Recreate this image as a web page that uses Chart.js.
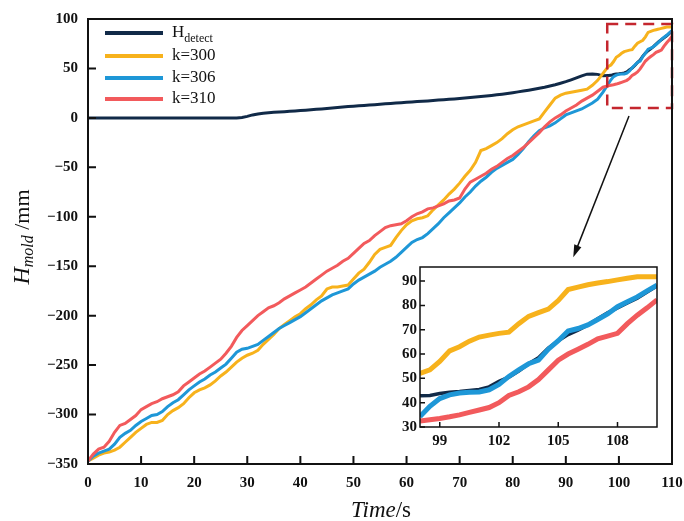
<!DOCTYPE html>
<html>
<head>
<meta charset="utf-8">
<script src="https://cdn.jsdelivr.net/npm/chart.js@4.4.1/dist/chart.umd.min.js"></script>
<style>
  html, body { margin: 0; padding: 0; background: #fff; }
  #wrap { position: relative; width: 684px; height: 521px; }
  #main { position: absolute; left: 0; top: 0; }
  #inset { position: absolute; left: 390px; top: 255px; }
</style>
</head>
<body>
<div id="wrap">
  <canvas id="main" width="684" height="521" style="width:684px;height:521px"></canvas>
  <canvas id="inset" width="272" height="200" style="width:272px;height:200px"></canvas>
</div>
<script>
// ----------------------------------------
// Data
// ----------------------------------------
const timeMain = Array.from({ length: 98 }, (_, i) => i);          // 0 .. 97 s
const timeZoom = Array.from({ length: 25 }, (_, i) => 98 + i * 0.5); // 98 .. 110 s

const hDetectMain = [
  0, 0, 0, 0, 0, 0, 0, 0, 0, 0,
  0, 0, 0, 0, 0, 0, 0, 0, 0, 0,
  0, 0, 0, 0, 0, 0, 0, 0, 0, 0.5,
  1.5, 3, 4, 4.8, 5.2, 5.6, 6, 6.3, 6.7, 7,
  7.4, 7.8, 8.2, 8.7, 9.1, 9.6, 10, 10.5, 11, 11.4,
  11.8, 12.2, 12.6, 13, 13.4, 13.8, 14.2, 14.6, 15, 15.4,
  15.8, 16.1, 16.5, 16.8, 17.2, 17.6, 18, 18.4, 18.8, 19.2,
  19.7, 20.1, 20.6, 21.1, 21.6, 22.1, 22.7, 23.3, 24, 24.7,
  25.5, 26.3, 27.1, 28, 29, 30, 31, 32.2, 33.5, 35,
  36.6, 38.5, 40.5, 42.5, 44.2, 44.5, 44, 42.5
];
const k300Main = [
  -347, -344, -341, -339, -338, -336, -333, -328, -323, -318,
  -314, -310, -308, -308, -306, -300, -296, -293, -289, -283,
  -278, -275, -273, -270, -266, -261, -257, -252, -247, -243,
  -240, -238, -235, -229, -224, -219, -213, -209, -205, -201,
  -198, -193, -189, -184, -180, -173, -171, -171, -170, -169,
  -163, -157, -153, -146, -138, -133, -131, -129, -121, -114,
  -108, -104, -102, -101, -99, -93, -88, -83, -77, -72,
  -66, -59, -53, -45, -33, -31, -28, -25, -21, -16,
  -12, -9, -7, -5, -3, -1, 6, 13, 20, 23,
  25, 26, 27, 28, 29, 33, 38, 45
];
const k306Main = [
  -347, -342, -339, -337, -335, -330, -323, -319, -316, -311,
  -307, -304, -301, -300, -297, -292, -288, -285, -280, -275,
  -271, -267, -264, -260, -257, -253, -249, -243, -237, -234,
  -233, -231, -229, -225, -221, -217, -213, -210, -207, -204,
  -201, -197, -193, -189, -185, -182, -179, -177, -175, -173,
  -168, -164, -161, -158, -155, -151, -148, -145, -141, -136,
  -131, -126, -123, -121, -117, -112, -107, -101, -96, -91,
  -86, -80, -75, -69, -64, -60, -55, -51, -48, -45,
  -42, -37, -31, -24, -18, -13, -10, -8, -5, -1,
  3, 5, 7, 9, 12, 15, 19, 26
];
const k310Main = [
  -347, -340, -335, -333, -327, -318, -311, -309, -305, -301,
  -295, -292, -289, -287, -284, -282, -280, -277, -271, -267,
  -263, -259, -256, -252, -248, -244, -238, -231, -222, -215,
  -210, -205, -200, -196, -192, -190, -187, -183, -180, -177,
  -174, -171, -167, -163, -159, -155, -152, -149, -145, -142,
  -137, -132, -127, -124, -119, -115, -111, -109, -108, -107,
  -104, -100, -97, -95, -92, -91, -89, -87, -84, -83,
  -81, -72, -65, -62, -59, -56, -52, -49, -45, -41,
  -38, -34, -30, -25, -20, -15, -9, -4, 0, 3,
  7, 10, 13, 17, 20, 23, 27, 31
];

// end section, 98..110 s every 0.5 s (also used by the inset)
const hDetectZoom = [42.8, 43, 43.8, 44.3, 44.6, 45, 45.4, 46.5, 48.8, 50.5, 53, 56, 58.5,
  62.5, 65.5, 68, 69.8, 72, 74.5, 77, 79, 81, 83, 85.5, 88];
const k300Zoom = [52, 53.5, 57, 61.3, 63, 65.3, 67, 67.8, 68.5, 69, 72.5, 75.5, 77,
  78.5, 82, 86.5, 87.5, 88.5, 89.2, 89.8, 90.5, 91.2, 91.8, 91.8, 91.8];
const k306Zoom = [34.3, 38.5, 41.7, 43.2, 44, 44.3, 44.4, 45.3, 47.5, 50.8, 53.5, 56, 57.5,
  62, 65.5, 69.5, 70.5, 72, 74.2, 76.5, 79.5, 81.5, 83.5, 86, 88.3];
const k310Zoom = [32.5, 33, 33.5, 34.2, 35, 36, 37, 38, 40, 43, 44.5, 46.5, 49.5,
  53.5, 57.5, 60, 62, 64, 66.3, 67.4, 68.5, 72.5, 76, 79, 82.3];

const mainXTicks = [0, 10, 20, 30, 40, 50, 60, 70, 80, 90, 100, 110];
const mainYTicks = [-350, -300, -250, -200, -150, -100, -50, 0, 50, 100];
const insetXTicks = [99, 102, 105, 108];
const insetYTicks = [30, 40, 50, 60, 70, 80, 90];

// zoom box on the main chart (data units) and arrow end points
const zoomBox = { x0: 97.8, x1: 110, y0: 10, y1: 95 };
const arrowFrom = { x: 101.9, y: 2 };
const arrowTo = { x: 91.4, y: -141 };

// ----------------------------------------
// Styling
// ----------------------------------------
const SERIF = "'Liberation Serif', 'Times New Roman', serif";
const COLORS = { detect: '#112a48', k300: '#f7b21c', k306: '#1e97d7', k310: '#f25a5c' };

const pts = (xs, ys) => xs.map((x, i) => ({ x: x, y: ys[i] }));
const fmtNum = (v) => (v < 0 ? '\u2212' + Math.abs(v) : String(v));

function series(label, color, xs, ys, width, order) {
  return {
    label: label,
    data: pts(xs, ys),
    borderColor: color,
    backgroundColor: color,
    borderWidth: width,
    pointRadius: 0,
    tension: 0,
    fill: false,
    order: order,
  };
}

// border box + inward tick marks
function frameTicks(lineW, tickLen) {
  return {
    id: 'frameTicks',
    afterDraw(chart) {
      const { ctx, chartArea: a, scales: { x, y } } = chart;
      ctx.save();
      ctx.strokeStyle = '#111';
      ctx.lineWidth = lineW;
      ctx.strokeRect(a.left, a.top, a.right - a.left, a.bottom - a.top);
      ctx.beginPath();
      x.ticks.forEach(t => {
        const px = x.getPixelForValue(t.value);
        ctx.moveTo(px, a.bottom);
        ctx.lineTo(px, a.bottom - tickLen);
      });
      y.ticks.forEach(t => {
        const py = y.getPixelForValue(t.value);
        ctx.moveTo(a.left, py);
        ctx.lineTo(a.left + tickLen, py);
      });
      ctx.stroke();
      ctx.restore();
    }
  };
}

// ----------------------------------------
// Main chart extras: legend, titles, zoom box, arrow
// ----------------------------------------
const mainExtras = {
  id: 'mainExtras',
  afterDatasetsDraw(chart) {
    const { ctx, scales: { x, y } } = chart;
    ctx.save();
    // dashed zoom box
    const bx0 = x.getPixelForValue(zoomBox.x0), bx1 = x.getPixelForValue(zoomBox.x1);
    const by0 = y.getPixelForValue(zoomBox.y1), by1 = y.getPixelForValue(zoomBox.y0);
    ctx.strokeStyle = '#c4262e';
    ctx.lineWidth = 2.5;
    ctx.setLineDash([11, 7]);
    ctx.strokeRect(bx0, by0, bx1 - bx0, by1 - by0);
    ctx.setLineDash([]);

    // arrow
    const ax0 = x.getPixelForValue(arrowFrom.x), ay0 = y.getPixelForValue(arrowFrom.y);
    const ax1 = x.getPixelForValue(arrowTo.x), ay1 = y.getPixelForValue(arrowTo.y);
    const ang = Math.atan2(ay1 - ay0, ax1 - ax0);
    ctx.strokeStyle = '#111';
    ctx.fillStyle = '#111';
    ctx.lineWidth = 1.5;
    ctx.beginPath();
    ctx.moveTo(ax0, ay0);
    ctx.lineTo(ax1 - 8 * Math.cos(ang), ay1 - 8 * Math.sin(ang));
    ctx.stroke();
    ctx.beginPath();
    ctx.moveTo(ax1, ay1);
    ctx.lineTo(ax1 - 13 * Math.cos(ang - 0.3), ay1 - 13 * Math.sin(ang - 0.3));
    ctx.lineTo(ax1 - 13 * Math.cos(ang + 0.3), ay1 - 13 * Math.sin(ang + 0.3));
    ctx.closePath();
    ctx.fill();
    ctx.restore();
  },
  afterDraw(chart) {
    const ctx = chart.ctx;
    ctx.save();
    ctx.textBaseline = 'middle';
    ctx.fillStyle = '#111';

    // legend
    const rows = [
      { color: COLORS.detect, y: 33, main: 'H', sub: 'detect' },
      { color: COLORS.k300, y: 56, main: 'k=300' },
      { color: COLORS.k306, y: 78, main: 'k=306' },
      { color: COLORS.k310, y: 99, main: 'k=310' },
    ];
    rows.forEach(r => {
      ctx.strokeStyle = r.color;
      ctx.lineWidth = 4;
      ctx.beginPath();
      ctx.moveTo(105, r.y);
      ctx.lineTo(163, r.y);
      ctx.stroke();
      ctx.font = '17px ' + SERIF;
      ctx.fillStyle = '#111';
      ctx.textAlign = 'left';
      ctx.fillText(r.main, 172, r.y);
      if (r.sub) {
        const w = ctx.measureText(r.main).width;
        ctx.font = '12px ' + SERIF;
        ctx.fillText(r.sub, 172 + w, r.y + 6);
      }
    });

    // x title: Time/s
    ctx.font = 'italic 23px ' + SERIF;
    const w1 = ctx.measureText('Time').width;
    ctx.font = '23px ' + SERIF;
    const w2 = ctx.measureText('/s').width;
    let sx = 381 - (w1 + w2) / 2;
    ctx.textAlign = 'left';
    ctx.font = 'italic 23px ' + SERIF;
    ctx.fillText('Time', sx, 511);
    ctx.font = '23px ' + SERIF;
    ctx.fillText('/s', sx + w1, 511);

    // y title: H_mold /mm
    ctx.translate(23, 237);
    ctx.rotate(-Math.PI / 2);
    ctx.font = 'italic 24px ' + SERIF;
    const h1 = ctx.measureText('H').width;
    ctx.font = 'italic 16px ' + SERIF;
    const h2 = ctx.measureText('mold').width;
    ctx.font = '22px ' + SERIF;
    const h3 = ctx.measureText(' /mm').width;
    let tx = -(h1 + h2 + h3) / 2;
    ctx.font = 'italic 24px ' + SERIF;
    ctx.fillText('H', tx, 0);
    ctx.font = 'italic 16px ' + SERIF;
    ctx.fillText('mold', tx + h1, 6);
    ctx.font = '22px ' + SERIF;
    ctx.fillText(' /mm', tx + h1 + h2, 0);
    ctx.restore();
  }
};

new Chart(document.getElementById('main'), {
  type: 'line',
  data: {
    datasets: [
      series('H_detect', COLORS.detect, timeMain.concat(timeZoom), hDetectMain.concat(hDetectZoom), 3, 4),
      series('k=300', COLORS.k300, timeMain.concat(timeZoom), k300Main.concat(k300Zoom), 3, 3),
      series('k=306', COLORS.k306, timeMain.concat(timeZoom), k306Main.concat(k306Zoom), 3, 2),
      series('k=310', COLORS.k310, timeMain.concat(timeZoom), k310Main.concat(k310Zoom), 3, 1),
    ]
  },
  options: {
    responsive: false,
    animation: false,
    devicePixelRatio: 1,
    layout: { padding: { left: 0, top: 18, right: 12, bottom: 0 } },
    plugins: { legend: { display: false }, tooltip: { enabled: false } },
    scales: {
      x: {
        type: 'linear',
        min: 0, max: 110,
        afterBuildTicks: (s) => { s.ticks = mainXTicks.map(v => ({ value: v })); },
        afterFit: (s) => { s.height = 57; s.paddingRight = 0; s.paddingLeft = 0; },
        grid: { display: false, drawTicks: false },
        border: { display: false },
        ticks: {
          autoSkip: false, maxRotation: 0, padding: 10, color: '#111',
          font: { family: SERIF, size: 15, weight: 'bold' },
          callback: (v) => fmtNum(v)
        }
      },
      y: {
        type: 'linear',
        min: -350, max: 100,
        afterBuildTicks: (s) => { s.ticks = mainYTicks.map(v => ({ value: v })); },
        afterFit: (s) => { s.width = 88; },
        grid: { display: false, drawTicks: false },
        border: { display: false },
        ticks: {
          autoSkip: false, padding: 10, color: '#111',
          font: { family: SERIF, size: 15, weight: 'bold' },
          callback: (v) => fmtNum(v)
        }
      }
    }
  },
  plugins: [frameTicks(2, 8), mainExtras]
});

// ----------------------------------------
// Inset (zoomed end section)
// ----------------------------------------
const insetBg = {
  id: 'insetBg',
  beforeDatasetsDraw(chart) {
    const { ctx, chartArea: a } = chart;
    ctx.save();
    ctx.fillStyle = '#fff';
    ctx.fillRect(a.left, a.top, a.right - a.left, a.bottom - a.top);
    ctx.restore();
  }
};

new Chart(document.getElementById('inset'), {
  type: 'line',
  data: {
    datasets: [
      series('H_detect', COLORS.detect, timeZoom, hDetectZoom, 3.5, 4),
      series('k=300', COLORS.k300, timeZoom, k300Zoom, 5, 3),
      series('k=306', COLORS.k306, timeZoom, k306Zoom, 5, 2),
      series('k=310', COLORS.k310, timeZoom, k310Zoom, 5, 1),
    ]
  },
  options: {
    responsive: false,
    animation: false,
    devicePixelRatio: 1,
    layout: { padding: { left: 0, top: 10, right: 5, bottom: 0 } },
    plugins: { legend: { display: false }, tooltip: { enabled: false } },
    scales: {
      x: {
        type: 'linear',
        min: 98, max: 110,
        afterBuildTicks: (s) => { s.ticks = insetXTicks.map(v => ({ value: v })); },
        afterFit: (s) => { s.height = 28; s.paddingRight = 0; s.paddingLeft = 0; },
        grid: { display: false, drawTicks: false },
        border: { display: false },
        ticks: {
          autoSkip: false, maxRotation: 0, padding: 5, color: '#111',
          font: { family: SERIF, size: 15, weight: 'bold' }
        }
      },
      y: {
        type: 'linear',
        min: 30, max: 95.8,
        afterBuildTicks: (s) => { s.ticks = insetYTicks.map(v => ({ value: v })); },
        afterFit: (s) => { s.width = 30; },
        grid: { display: false, drawTicks: false },
        border: { display: false },
        ticks: {
          autoSkip: false, padding: 3, color: '#111',
          font: { family: SERIF, size: 15, weight: 'bold' }
        }
      }
    }
  },
  plugins: [insetBg, frameTicks(1.5, 5)]
});
</script>
</body>
</html>
